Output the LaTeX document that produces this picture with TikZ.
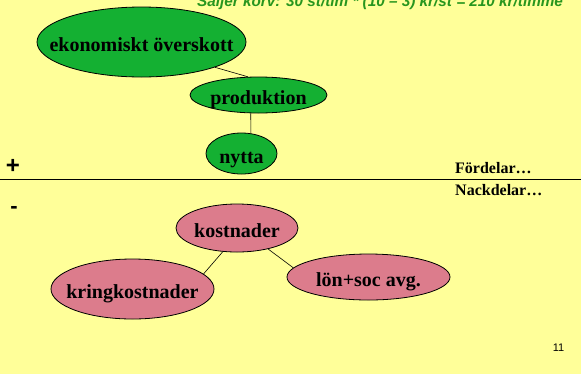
\documentclass[tikz,border=0pt]{standalone}
\usepackage{fontspec}
\setmainfont{Liberation Serif}
\setsansfont{Liberation Sans}
\usetikzlibrary{shapes.geometric}
\definecolor{bakgrund}{RGB}{255,255,153}
\definecolor{gron}{RGB}{20,176,50}
\definecolor{rubrikgron}{RGB}{40,150,30}
\definecolor{rosa}{RGB}{220,124,140}
\newcommand{\bolltext}[1]{\makebox[0pt]{\raisebox{-9.5bp}[0pt][0pt]{#1}}}

\begin{document}
\begin{tikzpicture}[x=1bp,y=-1bp,
  gronboll/.style={ellipse,draw,line width=0.8bp,fill=gron,inner sep=0pt,font=\fontsize{20bp}{24bp}\selectfont\bfseries},
  rosaboll/.style={ellipse,draw,line width=0.8bp,fill=rosa,inner sep=0pt,font=\fontsize{20bp}{24bp}\selectfont\bfseries}]
% background
\fill[bakgrund] (0,0) rectangle (581,374);
\useasboundingbox (0,0) rectangle (581,374);
\clip (0,0) rectangle (581,374);

% heading, cut at the top
\node[anchor=base west,inner sep=0pt,text=rubrikgron,font=\sffamily\bfseries\itshape\fontsize{15.3bp}{18bp}\selectfont] (rubrik) at (197,6.5) {Säljer korv: 30 st/tim * (10 -- 3) kr/st = 210 kr/timme};

% plus side
\node[gronboll,minimum width=209bp,minimum height=70bp] (overskott) at (141.5,42) {\bolltext{ekonomiskt överskott}};
\node[gronboll,minimum width=137bp,minimum height=36bp] (produktion) at (258.5,95) {\bolltext{produktion}};
\node[gronboll,minimum width=71bp,minimum height=41bp] (nytta) at (241.5,153.5) {\bolltext{nytta}};
\draw[line width=0.6bp] (overskott.-19) -- (produktion.120);
\draw[line width=0.6bp] (produktion.247) -- (nytta.65);

% dividing line
\draw[line width=1.3bp] (0,179.3) -- (581,179.3);
\node[font=\sffamily\bfseries\fontsize{24bp}{26bp}\selectfont] (plus) at (13,166) {+};
\node[font=\sffamily\bfseries\fontsize{22bp}{24bp}\selectfont] (minus) at (14,210) {-};
\node[anchor=base west,inner sep=0pt,font=\bfseries\fontsize{16bp}{18bp}\selectfont] (fordelar) at (455,173) {Fördelar…};
\node[anchor=base west,inner sep=0pt,font=\bfseries\fontsize{16bp}{18bp}\selectfont] (nackdelar) at (455,195) {Nackdelar…};

% minus side
\node[rosaboll,minimum width=122bp,minimum height=48bp] (kostnader) at (237,228) {\bolltext{kostnader}};
\node[rosaboll,minimum width=163bp,minimum height=60bp] (kring) at (132.5,289) {\bolltext{kringkostnader}};
\node[rosaboll,minimum width=163bp,minimum height=46bp] (lon) at (368.5,277) {\bolltext{lön+soc avg.}};
\draw[line width=0.6bp] (kostnader.239) -- (kring.12);
\draw[line width=0.6bp] (kostnader.-34) -- (lon.173);

% page number
\node[font=\sffamily\fontsize{11bp}{13bp}\selectfont] (sida) at (558.5,348) {11};
\end{tikzpicture}
\end{document}
